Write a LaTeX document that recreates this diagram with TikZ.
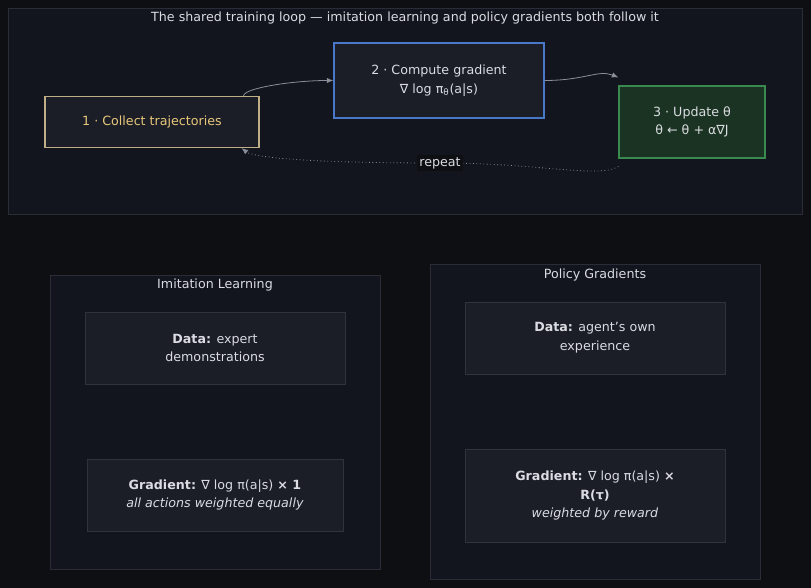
\documentclass[tikz,border=0pt]{standalone}
\usepackage{fontspec}
\setmainfont{DejaVu Sans}
\usetikzlibrary{arrows.meta,positioning}
\definecolor{bg}{HTML}{0E0F13}
\definecolor{panel}{HTML}{12141E}
\definecolor{panelline}{HTML}{2A2D38}
\definecolor{boxfill}{HTML}{1B1D27}
\definecolor{boxline}{HTML}{30333E}
\definecolor{txt}{HTML}{DADCE2}
\definecolor{gold}{HTML}{E8C77A}
\definecolor{tan}{HTML}{BFAE86}
\definecolor{bluel}{HTML}{4A78C8}
\definecolor{greenf}{HTML}{1A3322}
\definecolor{greenl}{HTML}{3A8A50}
\definecolor{arrowc}{HTML}{8A8D9A}
\tikzset{every picture/.style={/utils/exec={\fontsize{9.5}{12}\selectfont}}}

\begin{document}
\begin{tikzpicture}[x=0.75pt,y=-0.75pt,
  panelbox/.style={draw=panelline,fill=panel,line width=0.6pt},
  loopstep/.style={draw,line width=0.8pt,align=center,text=txt,inner sep=0pt},
  infobox/.style={draw=boxline,fill=boxfill,line width=0.6pt,align=center,text=txt,inner sep=0pt},
  title/.style={text=txt},
  flow/.style={draw=arrowc,line width=0.6pt,-{Latex[length=5pt,width=4pt]}}]
  \fill[bg] (0,0) rectangle (811,588);
  % training loop
  \draw[panelbox] (8,8) rectangle (802,214);
  \node[title] (looptitle) at (405,18) {The shared training loop --- imitation learning and policy gradients both follow it};
  \node[loopstep,draw=tan,fill=boxfill,text=gold,minimum width=214*0.75pt,minimum height=51*0.75pt] (collect) at (152,122) {1 · Collect trajectories};
  \node[loopstep,draw=bluel,fill=boxfill,minimum width=210*0.75pt,minimum height=75*0.75pt] (grad) at (439,80.5) {2 · Compute gradient\\[2pt]∇ log π\textsubscript{θ}(a|s)};
  \node[loopstep,draw=greenl,fill=greenf,minimum width=146*0.75pt,minimum height=72*0.75pt] (update) at (692,122) {3 · Update θ\\[2pt]θ ← θ + α∇J};
  \draw[flow] ([xshift=-16*0.75pt]collect.north east) .. controls +(0,-8) and +(-40,0) .. (grad.west);
  \draw[flow] (grad.east) .. controls +(40,0) and +(-20,-8) .. ([yshift=8*0.75pt]update.north west);
  \draw[flow,dotted] ([yshift=-8*0.75pt]update.south west) .. controls +(-20,12) and +(100,0) .. (440,163)
    .. controls +(-150,0) and +(10,8) .. ([xshift=-18*0.75pt]collect.south east);
  \node[fill=bg,text=txt,inner sep=1.5pt] (repeat) at (440,163) {repeat};
  % imitation learning
  \draw[panelbox] (50,275) rectangle (380,569);
  \node[title] (iltitle) at (215,285) {Imitation Learning};
  \node[infobox,minimum width=260*0.75pt,minimum height=72*0.75pt] (ildata) at (215,348) {\textbf{Data:} expert\\[2pt]demonstrations};
  \node[infobox,minimum width=256*0.75pt,minimum height=72*0.75pt] (ilgrad) at (215,495) {\textbf{Gradient:} ∇ log π(a|s) \textbf{× 1}\\[2pt]\textit{all actions weighted equally}};
  % policy gradients
  \draw[panelbox] (430,264) rectangle (760,579);
  \node[title] (pgtitle) at (595,275) {Policy Gradients};
  \node[infobox,minimum width=260*0.75pt,minimum height=72*0.75pt] (pgdata) at (595,338) {\textbf{Data:} agent's own\\[2pt]experience};
  \node[infobox,minimum width=260*0.75pt,minimum height=93*0.75pt] (pggrad) at (595,495.5) {\textbf{Gradient:} ∇ log π(a|s) \textbf{×}\\[2pt]\textbf{R(τ)}\\[2pt]\textit{weighted by reward}};
\end{tikzpicture}
\end{document}
